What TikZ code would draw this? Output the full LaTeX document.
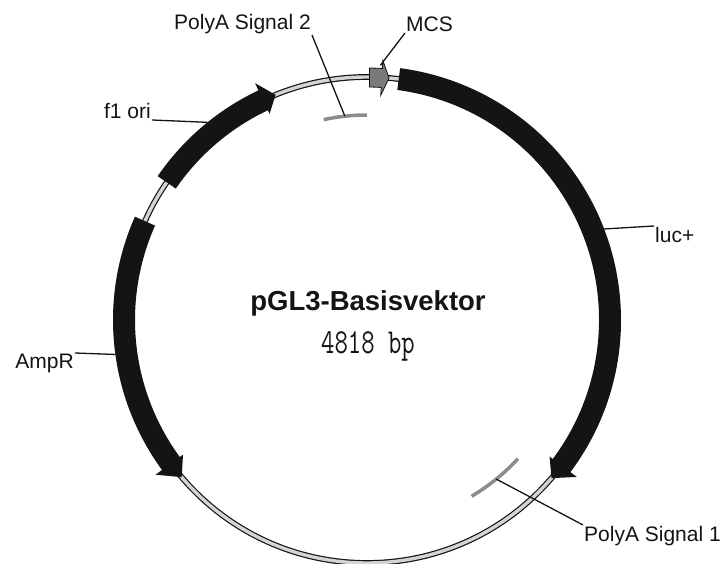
\documentclass[tikz,border=0pt]{standalone}
\usepackage{fontspec}
\setmainfont{Liberation Sans}
\usetikzlibrary{positioning}
\definecolor{cring}{HTML}{D4D4D4}
\definecolor{cpolya}{HTML}{8C8C8C}
\definecolor{cmcs}{HTML}{7A7A7A}
\definecolor{cink}{HTML}{141414}
\tikzset{
  every picture/.style={x=1pt, y=1pt},
  backbone/.style={draw=cink, line width=1.2pt, double=cring, double distance=3.4pt},
  gene/.style={fill=cink},
  mcsbox/.style={fill=cmcs, draw=cink, line width=0.8pt},
  polya/.style={draw=cpolya, line width=3.5pt},
  lead/.style={draw=cink, line width=1.3pt},
  lbl/.style={font=\fontsize{21}{24}\selectfont, text=cink, inner sep=1pt},
  title/.style={font=\fontsize{27.5}{30}\selectfont\bfseries, text=cink},
  size/.style={font=\fontsize{26}{28}\selectfont\ttfamily, text=cink},
}
\begin{document}
\begin{tikzpicture}
  \useasboundingbox (-367,-244) rectangle (356,320);
  % plasmid backbone
  \draw[backbone] (0,0) circle (243);
  % luc+, f1 ori, AmpR: start/base of head/tip
  \foreach \a/\b/\t in {82.5/-36.8/-40.6, 145.5/115.3/112.1, 156/216.2/220.3}
    \fill[gene] (\a:232) arc[start angle=\a, end angle=\b, radius=232] -- (\b:228) -- (\t:243) -- (\b:262) -- (\b:254) arc[start angle=\b, end angle=\a, radius=254] -- cycle;
  % MCS
  \filldraw[mcsbox] (89.4:233) arc[start angle=89.4, end angle=86.5, radius=233] -- (86.5:225) -- (84.8:243) -- (86.5:260) -- (86.5:252) arc[start angle=86.5, end angle=89.4, radius=252] -- cycle;
  % polyA signals
  \draw[polya] (90:205) arc[start angle=90, end angle=102.2, radius=205];
  \draw[polya] (-59.3:205) arc[start angle=-59.3, end angle=-42.6, radius=205];
  \coordinate (pa2end) at (96.2:205);
  \coordinate (pa1end) at (-50.9:205);
  \coordinate (mcsend) at (87:255);
  \coordinate (f1end) at (128.9:254);
  \coordinate (lucend) at (21:254);
  \coordinate (ampend) at (187.8:254);
  % labels
  \node[lbl, anchor=south east] (pa2) at (-55,285) {PolyA Signal 2};
  \node[lbl, anchor=south west] (mcs) at (38,287) {MCS};
  \node[lbl, anchor=south east] (f1) at (-215,200) {f1 ori};
  \node[lbl, anchor=north west] (luc) at (287,94) {luc+};
  \node[lbl, anchor=north east] (amp) at (-292,-33) {AmpR};
  \node[lbl, anchor=north west] (pa1) at (216,-205) {PolyA Signal 1};
  \draw[lead] (pa2.south east) -- (pa2end);
  \draw[lead] (mcs.south west) -- (mcsend);
  \draw[lead] (f1.south east) -- (f1end);
  \draw[lead] (luc.north west) -- (lucend);
  \draw[lead] (amp.north east) -- (ampend);
  \draw[lead] (pa1.north west) -- (pa1end);
  \node[title] (name) at (1,16.5) {pGL3-Basisvektor};
  \node[size] (len) at (1,-26) {\scalebox{1}[1.35]{4818 bp}};
\end{tikzpicture}
\end{document}
